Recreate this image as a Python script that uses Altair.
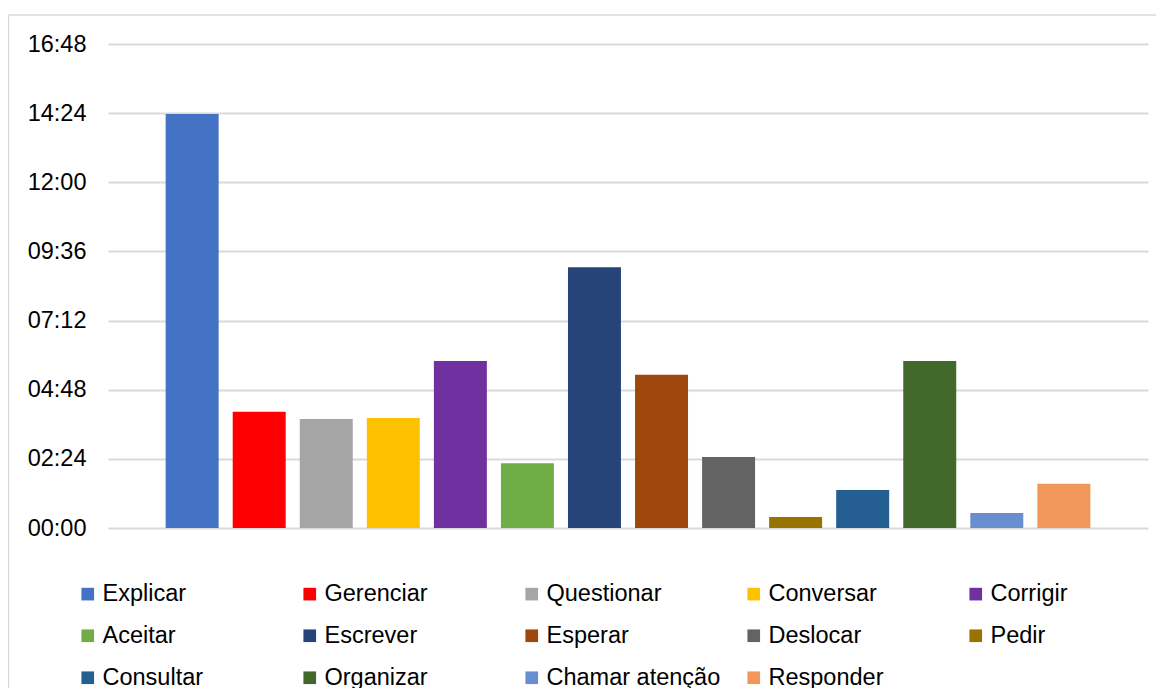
import altair as alt
import pandas as pd

categories = ["Explicar", "Gerenciar", "Questionar", "Conversar", "Corrigir",
              "Aceitar", "Escrever", "Esperar", "Deslocar", "Pedir",
              "Consultar", "Organizar", "Chamar atenção", "Responder"]
# durations in minutes (hh:mm)
values = [862, 242, 227, 229, 348, 135, 543, 319, 148, 23, 79, 348, 31, 92]
colors = ["#4472C4", "#FF0000", "#A5A5A5", "#FFC000", "#7030A0", "#70AD47",
          "#264478", "#9E480E", "#636363", "#997300", "#255E91", "#43682B",
          "#698ED0", "#F1975A"]
tick_values = [0, 144, 288, 432, 576, 720, 864, 1008]

df = pd.DataFrame({"Atividade": categories, "Tempo": values})

FONT = "Liberation Sans"

label_expr = ("(floor(datum.value/60) < 10 ? '0' : '') + floor(datum.value/60) + ':' + "
              "(datum.value % 60 < 10 ? '0' : '') + (datum.value % 60)")

bars = alt.Chart(df).mark_bar().encode(
    x=alt.X("Atividade:N", sort=categories, axis=None,
            scale=alt.Scale(paddingInner=0.21, paddingOuter=0.86)),
    y=alt.Y("Tempo:Q",
            scale=alt.Scale(domain=[0, 1008], nice=False),
            axis=alt.Axis(values=tick_values, labelExpr=label_expr, title=None,
                          domain=False, ticks=False, labelPadding=22,
                          labelFontSize=23.5, labelFont=FONT, labelColor="#000000",
                          gridColor="#d9d9d9", gridWidth=1.8)),
    color=alt.Color("Atividade:N",
                    scale=alt.Scale(domain=categories, range=colors),
                    legend=alt.Legend(title=None, orient="none", legendX=-32, legendY=538,
                                      direction="horizontal",
                                      columns=5, gridAlign="all", columnPadding=21,
                                      rowPadding=17, symbolType="square", symbolSize=160,
                                      symbolStrokeWidth=0, labelOffset=3,
                                      labelFontSize=23.5, labelFont=FONT,
                                      labelColor="#000000", padding=0,
                                      labelLimit=400)),
)

border = pd.DataFrame({"k": [0]})
left_line = alt.Chart(border).mark_rule(color="#d9d9d9", strokeWidth=1.5).encode(
    x=alt.value(-99.5), y=alt.value(-29), y2=alt.value(700))
top_line = alt.Chart(border).mark_rule(color="#d9d9d9", strokeWidth=1.5).encode(
    x=alt.value(-99.5), x2=alt.value(1100), y=alt.value(-29))

chart = alt.layer(bars, left_line, top_line).properties(
    width=1040, height=484,
    background="#ffffff",
    autosize=alt.AutoSizeParams(type="none"),
    padding={"left": 100, "top": 36, "right": 8, "bottom": 200},
).configure_view(stroke=None)

chart.save("out.html", embed_options={"renderer": "svg", "actions": False})
